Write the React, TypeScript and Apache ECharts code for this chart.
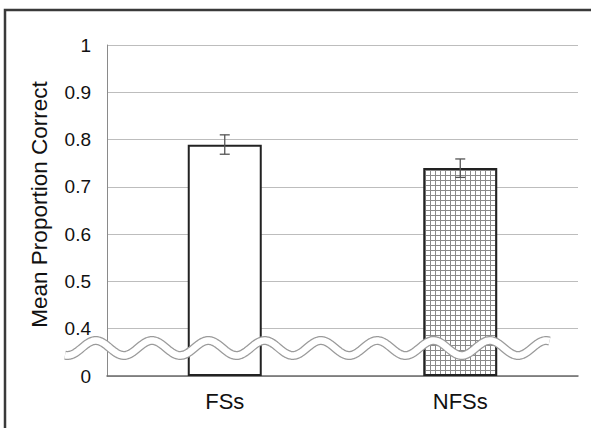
import React, { useEffect, useRef } from "react";
import * as echarts from "echarts";

const categories = ["FSs", "NFSs"];
const means = [0.789, 0.74];
const errLow = [0.769, 0.72];
const errHigh = [0.81, 0.759];
// axis break: the bottom tick (0.3 internally) is shown as "0"
const axisMin = 0.3;
const axisMax = 1;
const tickStep = 0.1;
const yTitle = "Mean Proportion Correct";

function makePattern(): string {
  const c = document.createElement("canvas");
  c.width = 5;
  c.height = 5;
  const ctx = c.getContext("2d")!;
  ctx.fillStyle = "#ffffff";
  ctx.fillRect(0, 0, 5, 5);
  ctx.fillStyle = "#8a8a8a";
  ctx.fillRect(0, 0, 5, 1);
  ctx.fillRect(0, 0, 1, 5);
  return c.toDataURL();
}

function wavePoints(x0: number, x1: number, cy: number, amp: number, period: number, phaseX: number): number[][] {
  const pts: number[][] = [];
  for (let x = x0; x <= x1; x += 1.5) {
    pts.push([x, cy + amp * Math.cos(((x - phaseX) / period) * 2 * Math.PI)]);
  }
  return pts;
}

export default function App() {
  const ref = useRef<HTMLDivElement>(null);
  useEffect(() => {
    if (!ref.current) return;
    const chart = echarts.init(ref.current, null, { renderer: "svg" });
    const patternUrl = makePattern();
    const pts = wavePoints(65, 550, 348, 7.5, 56.3, 67.6);
    const font = "'Liberation Sans', Arial, sans-serif";
    chart.setOption({
      animation: false,
      backgroundColor: "#ffffff",
      grid: { left: 107, right: 13, top: 45, bottom: 52, containLabel: false },
      xAxis: {
        type: "category",
        data: categories,
        axisLine: { lineStyle: { color: "#6a6a6a", width: 1.5 } },
        axisTick: { show: false },
        axisLabel: { color: "#111111", fontSize: 22, fontFamily: font, margin: 14 },
      },
      yAxis: {
        type: "value",
        min: axisMin,
        max: axisMax,
        interval: tickStep,
        startValue: axisMin,
        name: yTitle,
        nameLocation: "middle",
        nameGap: 56,
        nameTextStyle: { color: "#111111", fontSize: 22.5, fontFamily: font, padding: [0, 0, 0, 12] },
        axisLine: { show: true, lineStyle: { color: "#8a8a8a", width: 1 } },
        axisTick: { show: false },
        splitLine: { lineStyle: { color: "#bdbdbd", width: 1 } },
        axisLabel: {
          color: "#111111",
          fontSize: 19,
          fontFamily: font,
          margin: 16,
          formatter: (v: number) => {
            if (Math.abs(v - axisMin) < 1e-6) return "0";
            if (Math.abs(v - 1) < 1e-6) return "1";
            return v.toFixed(1);
          },
        },
      },
      series: [
        {
          type: "bar",
          barWidth: 74,
          clip: true,
          data: means.map((m, i) => ({
            value: m,
            itemStyle:
              i === 0
                ? { color: "#ffffff", borderColor: "#222222", borderWidth: 2 }
                : {
                    color: { image: patternUrl, repeat: "repeat", imageWidth: 5, imageHeight: 5 },
                    borderColor: "#222222",
                    borderWidth: 2,
                  },
          })),
          z: 2,
        },
        {
          type: "custom",
          z: 3,
          data: categories.map((_, i) => [i, errLow[i], errHigh[i]]),
          renderItem: (params: any, api: any) => {
            const x = api.value(0);
            const lo = api.coord([x, api.value(1)]);
            const hi = api.coord([x, api.value(2)]);
            const half = 5;
            const style = { stroke: "#555555", lineWidth: 1.3 };
            return {
              type: "group",
              children: [
                { type: "line", shape: { x1: lo[0], y1: lo[1], x2: hi[0], y2: hi[1] }, style },
                { type: "line", shape: { x1: lo[0] - half, y1: lo[1], x2: lo[0] + half, y2: lo[1] }, style },
                { type: "line", shape: { x1: hi[0] - half, y1: hi[1], x2: hi[0] + half, y2: hi[1] }, style },
              ],
            };
          },
        },
      ],
      graphic: [
        {
          type: "rect",
          shape: { x: 5, y: 10, width: 620, height: 440 },
          style: { fill: "none", stroke: "#3a3a3a", lineWidth: 2.5 },
          z: 100,
          silent: true,
        },
        {
          type: "polyline",
          shape: { points: pts },
          style: { fill: "none", stroke: "#9a9a9a", lineWidth: 9, lineCap: "butt", lineJoin: "round" },
          z: 50,
          silent: true,
        },
        {
          type: "polyline",
          shape: { points: pts },
          style: { fill: "none", stroke: "#ffffff", lineWidth: 6.5, lineCap: "butt", lineJoin: "round" },
          z: 51,
          silent: true,
        },
      ],
    });
    return () => chart.dispose();
  }, []);
  return <div ref={ref} style={{ position: "fixed", left: 0, top: 0, width: 591, height: 428 }} />;
}
